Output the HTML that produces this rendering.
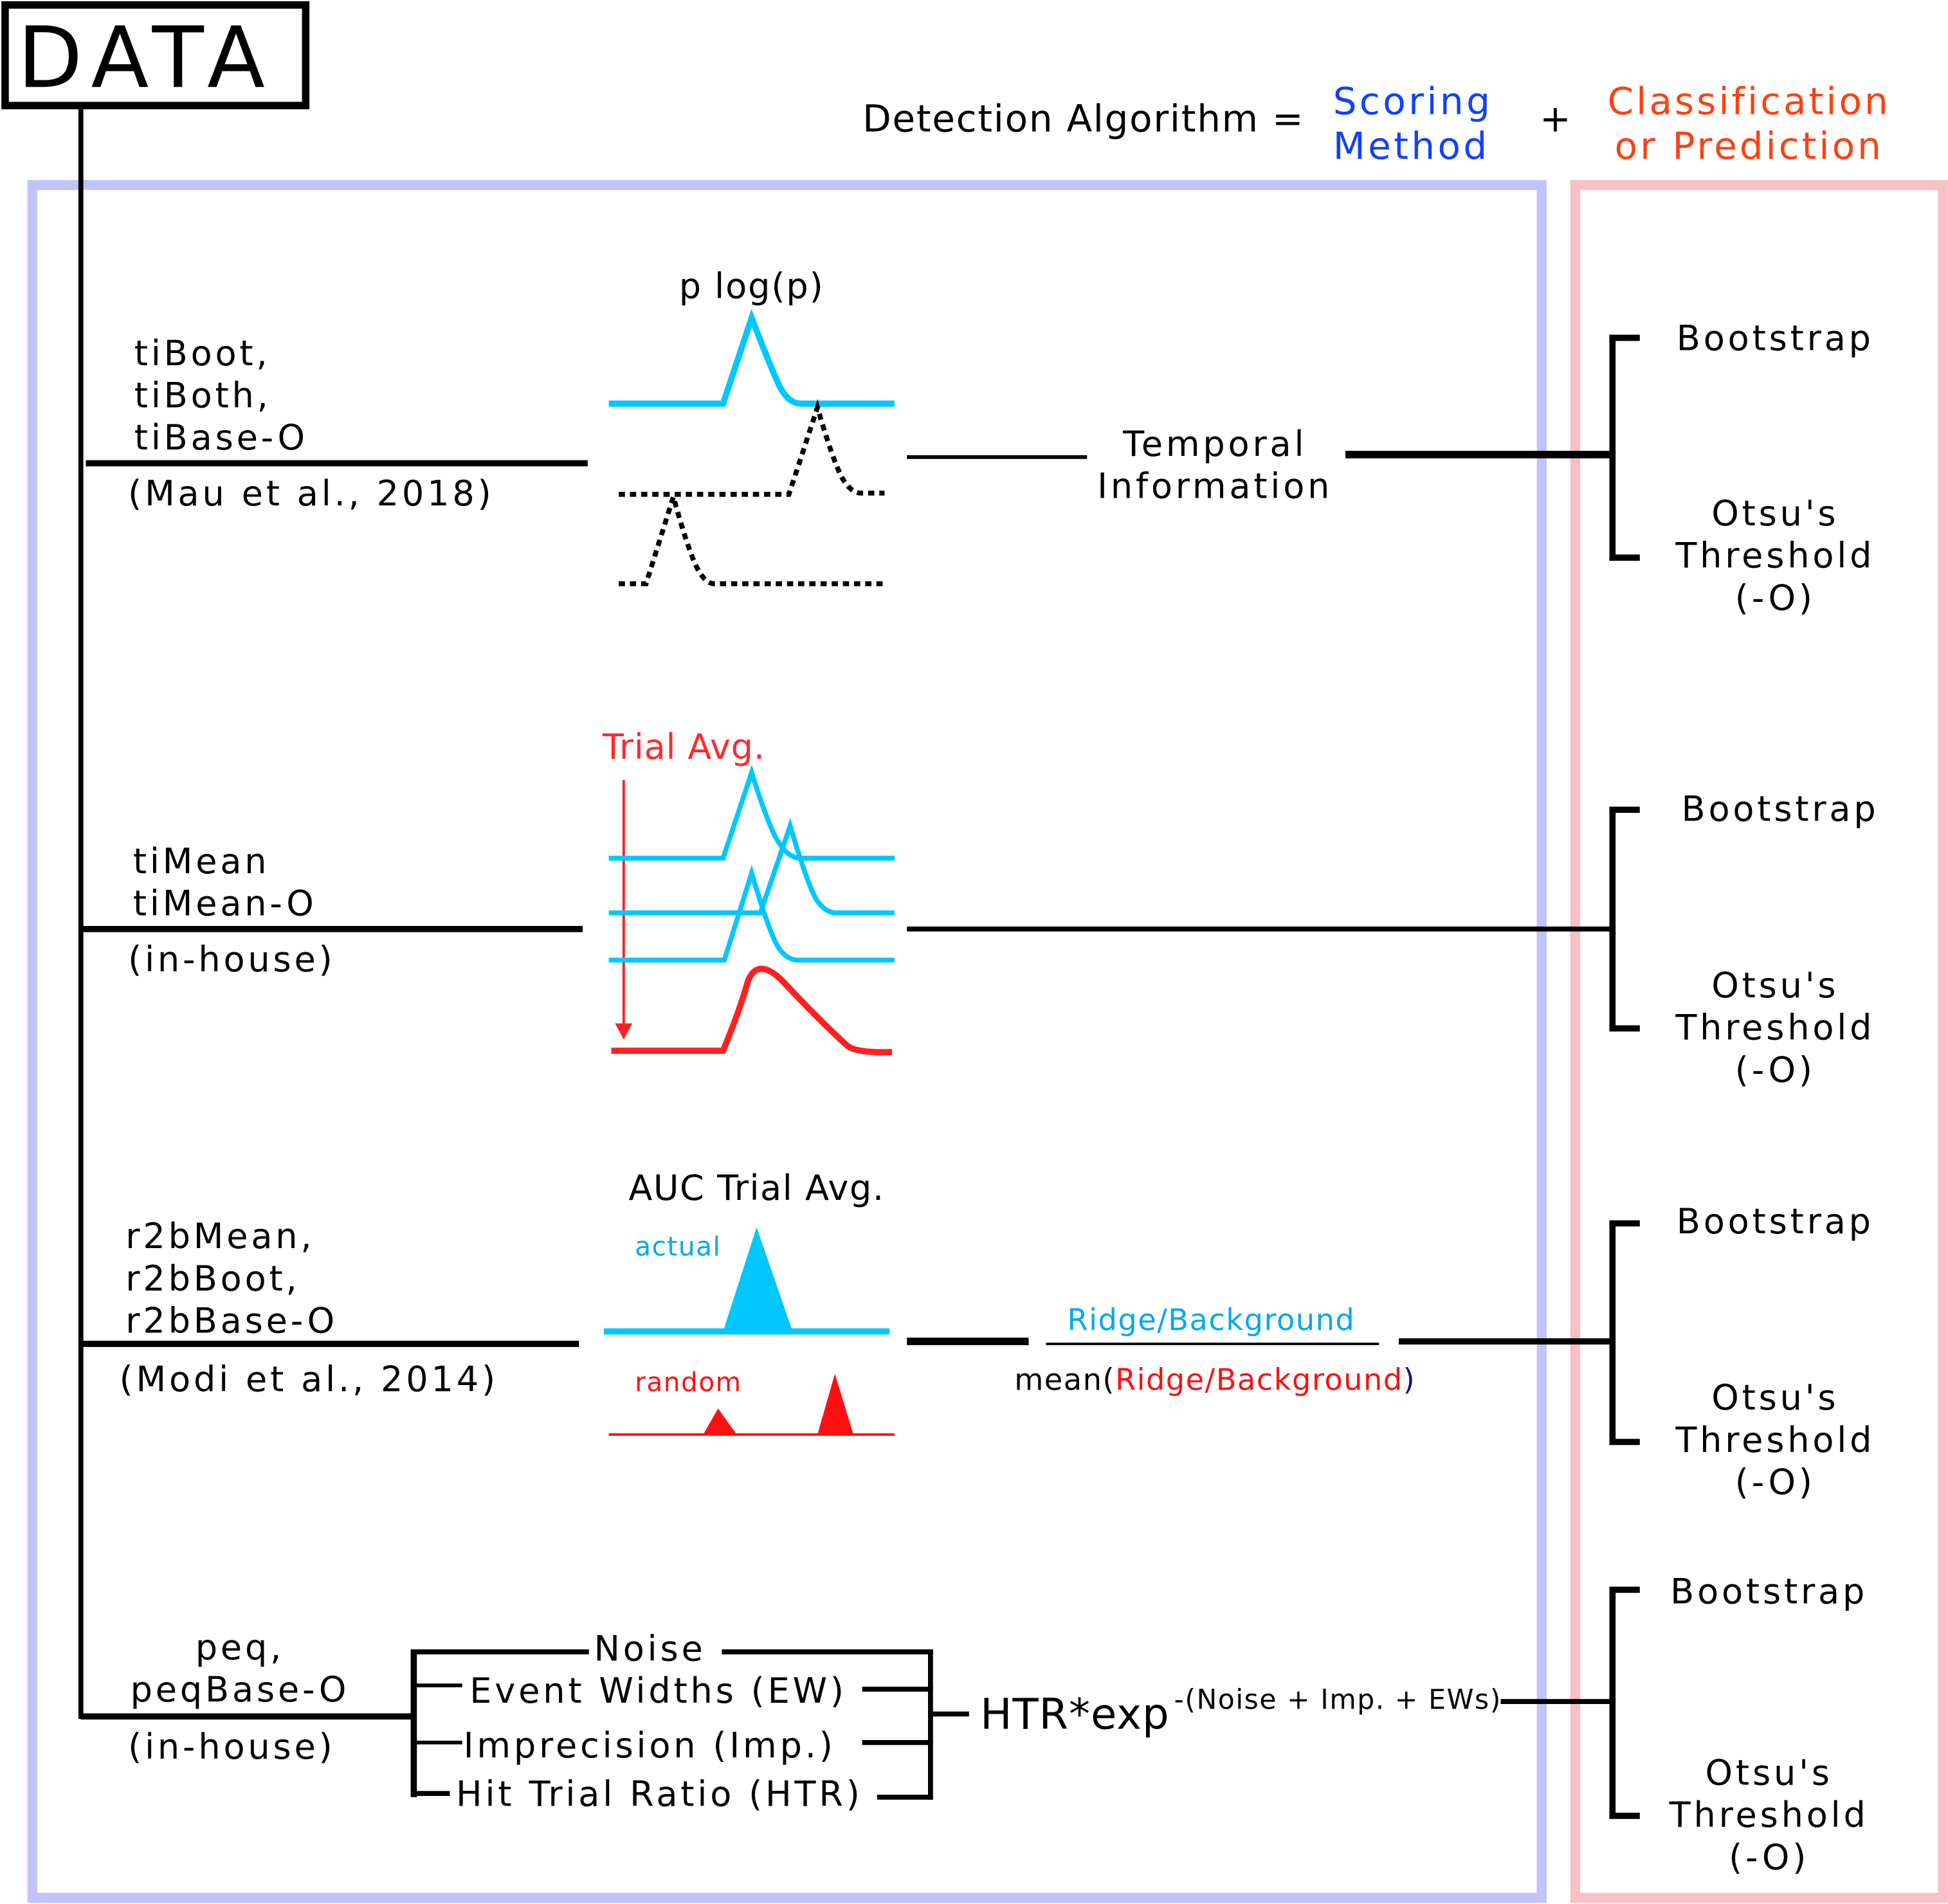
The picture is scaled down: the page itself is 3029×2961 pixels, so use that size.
<!DOCTYPE html>
<html><head><meta charset="utf-8"><style>
html,body{margin:0;padding:0;background:#fff;}
svg{display:block;}
text{font-family:"DejaVu Sans","Liberation Sans",sans-serif;}
.w{letter-spacing:2.5px;}
.n{letter-spacing:0.8px;}
</style></head><body>
<svg width="3029" height="2961" viewBox="0 0 1568 1533" xmlns="http://www.w3.org/2000/svg">
<rect width="1568" height="1533" fill="#fff"/>
<!-- boxes -->
<rect x="26" y="149" width="1215" height="1379" fill="none" stroke="#c0c4f8" stroke-width="8"/>
<rect x="1268" y="149" width="296" height="1379" fill="none" stroke="#f8c0c4" stroke-width="8"/>
<!-- DATA -->
<rect x="4" y="4" width="242" height="81" fill="#fff" stroke="#000" stroke-width="6"/>
<text x="14" y="70" font-size="68" letter-spacing="8">DATA</text>
<line x1="65" y1="88" x2="65" y2="1384" stroke="#000" stroke-width="4"/>
<!-- header -->
<text x="1050" y="106" font-size="30" text-anchor="end" letter-spacing="0.9">Detection Algorithm =</text>
<text x="1073" y="92" font-size="30" fill="#1040ff" letter-spacing="2.3">Scoring</text>
<text x="1073" y="128" font-size="30" fill="#1040ff" letter-spacing="2.3">Method</text>
<text x="1252" y="106" font-size="30" text-anchor="middle">+</text>
<text x="1408" y="92" font-size="30" fill="#ff4010" text-anchor="middle" letter-spacing="2.1">Classification</text>
<text x="1408" y="128" font-size="30" fill="#ff4010" text-anchor="middle" letter-spacing="2.1">or Prediction</text>

<g font-size="28">
<!-- Row 1 -->
<g class="w">
<text x="108" y="294">tiBoot,</text>
<text x="108" y="328">tiBoth,</text>
<text x="108" y="362">tiBase-O</text>
<text x="103" y="407">(Mau et al., 2018)</text>
<text x="978" y="367" text-anchor="middle">Temporal</text>
<text x="978" y="401" text-anchor="middle">Information</text>
<text x="1429" y="282" text-anchor="middle">Bootstrap</text>
<text x="1429" y="423" text-anchor="middle">Otsu's</text>
<text x="1429" y="457" text-anchor="middle">Threshold</text>
<text x="1429" y="491" text-anchor="middle">(-O)</text>
</g>
<line x1="69" y1="373" x2="473" y2="373" stroke="#000" stroke-width="5"/>
<text x="605" y="240" text-anchor="middle" letter-spacing="1">p log(p)</text>
<path d="M490 325 L582 325 L605 256 Q622 300 628 312 Q635 325 645 325 L720 325" fill="none" stroke="#00c8ff" stroke-width="5"/>
<path d="M498 398 L635 398 L658 328 Q670 370 678 385 Q685 397 693 397 L712 397" fill="none" stroke="#000" stroke-width="4" stroke-dasharray="5 4"/>
<path d="M498 470 L520 470 L542 400 Q553 440 560 455 Q567 470 575 470 L712 470" fill="none" stroke="#000" stroke-width="4" stroke-dasharray="5 4"/>
<line x1="730" y1="368" x2="875" y2="368" stroke="#000" stroke-width="3"/>
<line x1="1083" y1="366" x2="1298" y2="366" stroke="#000" stroke-width="6"/>
<path d="M1320 272 L1298 272 L1298 449 L1320 449" fill="none" stroke="#000" stroke-width="5"/>

<!-- Row 2 -->
<text x="485" y="611" fill="#ff2a2a" letter-spacing="0.4">Trial Avg.</text>
<line x1="502" y1="628" x2="502" y2="826" stroke="#ff2020" stroke-width="2"/>
<path d="M495 824 L509 824 L502 837 Z" fill="#ff2020"/>
<path d="M490 691 L582 691 L605 622 Q620 670 628 680 Q635 691 645 691 L720 691" fill="none" stroke="#00c8ff" stroke-width="4"/>
<path d="M490 735 L612 735 L636 665 Q650 712 657 724 Q664 735 673 735 L720 735" fill="none" stroke="#00c8ff" stroke-width="4"/>
<path d="M490 773 L583 773 L605 703 Q619 750 626 762 Q633 773 642 773 L720 773" fill="none" stroke="#00c8ff" stroke-width="4"/>
<path d="M492 846 L582 846 Q596 812 602 790 Q610 770 630 790 Q660 822 682 842 Q690 848 718 847" fill="none" stroke="#ff2020" stroke-width="5"/>
<g class="w">
<text x="107" y="703">tiMean</text>
<text x="107" y="737">tiMean-O</text>
<text x="103" y="782">(in-house)</text>
<text x="1433" y="661" text-anchor="middle">Bootstrap</text>
<text x="1429" y="803" text-anchor="middle">Otsu's</text>
<text x="1429" y="837" text-anchor="middle">Threshold</text>
<text x="1429" y="871" text-anchor="middle">(-O)</text>
</g>
<line x1="65" y1="748" x2="469" y2="748" stroke="#000" stroke-width="5"/>
<line x1="730" y1="748" x2="1298" y2="748" stroke="#000" stroke-width="4"/>
<path d="M1320 652 L1298 652 L1298 828 L1320 828" fill="none" stroke="#000" stroke-width="5"/>

<!-- Row 3 -->
<text x="609" y="966" text-anchor="middle" class="n">AUC Trial Avg.</text>
<text x="511" y="1011" font-size="21" fill="#00a8f0" letter-spacing="0.8">actual</text>
<path d="M582 1072 L609 988 L638 1072 Z" fill="#00c8ff"/>
<line x1="486" y1="1072" x2="716" y2="1072" stroke="#00c8ff" stroke-width="5"/>
<text x="511" y="1120" font-size="21" fill="#ff1010" letter-spacing="0.8">random</text>
<line x1="490" y1="1155" x2="720" y2="1155" stroke="#ff1010" stroke-width="2"/>
<path d="M566 1155 L578 1134 L593 1155 Z" fill="#ff1010"/>
<path d="M658 1155 L672 1106 L687 1155 Z" fill="#ff1010"/>
<g class="w">
<text x="101" y="1005">r2bMean,</text>
<text x="101" y="1039">r2bBoot,</text>
<text x="101" y="1073">r2bBase-O</text>
<text x="96" y="1120">(Modi et al., 2014)</text>
<text x="1429" y="993" text-anchor="middle">Bootstrap</text>
<text x="1429" y="1135" text-anchor="middle">Otsu's</text>
<text x="1429" y="1169" text-anchor="middle">Threshold</text>
<text x="1429" y="1203" text-anchor="middle">(-O)</text>
</g>
<line x1="65" y1="1082" x2="466" y2="1082" stroke="#000" stroke-width="5"/>
<line x1="730" y1="1080" x2="828" y2="1080" stroke="#000" stroke-width="6"/>
<text x="975" y="1071" font-size="24" text-anchor="middle" fill="#00a8f0" letter-spacing="0.75">Ridge/Background</text>
<line x1="842" y1="1082" x2="1110" y2="1082" stroke="#000" stroke-width="2"/>
<text x="978" y="1119" font-size="24" text-anchor="middle" letter-spacing="0.75">mean(<tspan fill="#ff1010">Ridge/Background</tspan><tspan fill="#101080">)</tspan></text>
<line x1="1126" y1="1080" x2="1298" y2="1080" stroke="#000" stroke-width="5"/>
<path d="M1320 985 L1298 985 L1298 1161 L1320 1161" fill="none" stroke="#000" stroke-width="5"/>

<!-- Row 4 -->
<g class="w">
<text x="193" y="1336" text-anchor="middle">peq,</text>
<text x="193" y="1370" text-anchor="middle">peqBase-O</text>
<text x="103" y="1416">(in-house)</text>
<text x="478" y="1337">Noise</text>
<text x="378" y="1371">Event Widths (EW)</text>
<text x="373" y="1415">Imprecision (Imp.)</text>
<text x="367" y="1454">Hit Trial Ratio (HTR)</text>
<text x="1424" y="1291" text-anchor="middle">Bootstrap</text>
<text x="1424" y="1437" text-anchor="middle">Otsu's</text>
<text x="1424" y="1471" text-anchor="middle">Threshold</text>
<text x="1424" y="1505" text-anchor="middle">(-O)</text>
</g>
<line x1="65" y1="1382" x2="335" y2="1382" stroke="#000" stroke-width="5"/>
<line x1="333" y1="1328" x2="333" y2="1447" stroke="#000" stroke-width="5"/>
<line x1="333" y1="1330" x2="474" y2="1330" stroke="#000" stroke-width="4"/>
<line x1="333" y1="1357" x2="372" y2="1357" stroke="#000" stroke-width="3"/>
<line x1="333" y1="1403" x2="372" y2="1403" stroke="#000" stroke-width="3"/>
<line x1="333" y1="1444" x2="362" y2="1444" stroke="#000" stroke-width="4"/>
<line x1="581" y1="1330" x2="751" y2="1330" stroke="#000" stroke-width="4"/>
<line x1="694" y1="1360" x2="751" y2="1360" stroke="#000" stroke-width="4"/>
<line x1="694" y1="1403" x2="751" y2="1403" stroke="#000" stroke-width="4"/>
<line x1="706" y1="1447" x2="751" y2="1447" stroke="#000" stroke-width="4"/>
<line x1="749" y1="1328" x2="749" y2="1449" stroke="#000" stroke-width="4"/>
<line x1="749" y1="1380" x2="780" y2="1380" stroke="#000" stroke-width="4"/>
<text x="789" y="1392" font-size="34" letter-spacing="0.5">HTR*exp</text>
<text x="945" y="1376" font-size="22" letter-spacing="0.8">-(Noise + Imp. + EWs)</text>
<line x1="1208" y1="1370" x2="1298" y2="1370" stroke="#000" stroke-width="4"/>
<path d="M1320 1280 L1298 1280 L1298 1462 L1320 1462" fill="none" stroke="#000" stroke-width="5"/>
</g>
</svg>
</body></html>
